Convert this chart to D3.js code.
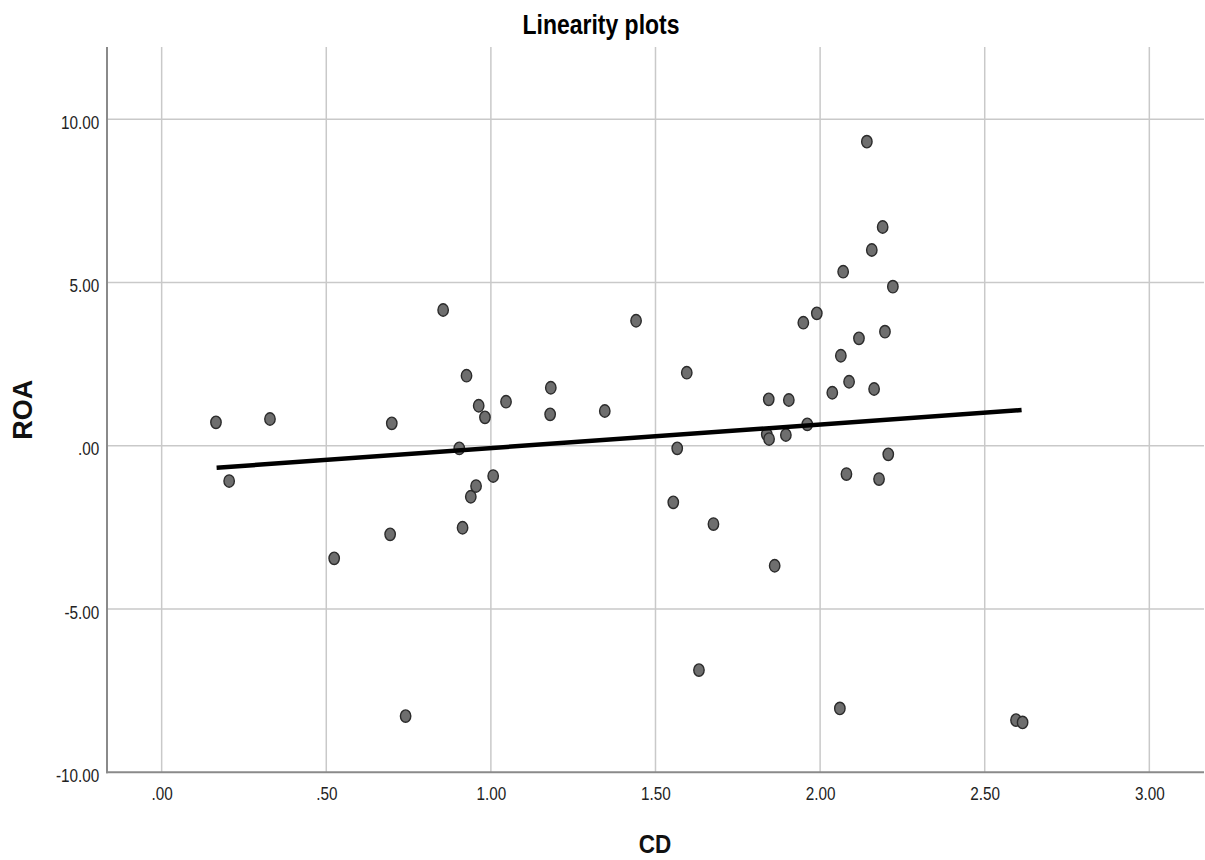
<!DOCTYPE html>
<html>
<head>
<meta charset="utf-8">
<script src="https://cdn.jsdelivr.net/npm/d3@7"></script>
<style>
  html, body { margin: 0; padding: 0; background: #fff; }
  svg { display: block; }
</style>
</head>
<body>
<svg id="chart" width="1205" height="860"></svg>
<script>
// ---- Data ----
const cd = [0.165, 0.205, 0.329, 0.524, 0.699, 0.694, 0.741, 0.855, 0.904, 0.914,
            0.926, 0.939, 0.955, 0.963, 0.982, 1.007, 1.046, 1.182, 1.180, 1.346,
            1.441, 1.554, 1.566, 1.595, 1.632, 1.676, 1.838, 1.845, 1.844, 1.862,
            1.896, 1.905, 1.949, 1.961, 1.990, 2.037, 2.063, 2.060, 2.070, 2.080,
            2.088, 2.118, 2.142, 2.157, 2.164, 2.179, 2.190, 2.197, 2.207, 2.221,
            2.595, 2.615];
const roa = [0.717, -1.081, 0.818, -3.449, 0.686, -2.714, -8.279, 4.156, -0.080, -2.511,
             2.144, -1.562, -1.234, 1.225, 0.870, -0.928, 1.348, 1.776, 0.962, 1.063,
             3.828, -1.734, -0.080, 2.236, -6.870, -2.398, 0.349, 0.205, 1.421, -3.675,
             0.328, 1.400, 3.767, 0.655, 4.055, 1.623, 2.756, -8.043, 5.329, -0.867,
             1.960, 3.289, 9.311, 5.994, 1.737, -1.020, 6.698, 3.492, -0.263, 4.870,
             -8.401, -8.472];
const fitX = [0.167, 2.612];
const fitY = [-0.674, 1.093];
const xTicks = [0, 0.5, 1, 1.5, 2, 2.5, 3];
const xTickLabels = [".00", ".50", "1.00", "1.50", "2.00", "2.50", "3.00"];
const yTicks = [-10, -5, 0, 5, 10];
const yTickLabels = ["-10.00", "-5.00", ".00", "5.00", "10.00"];
const titleText = "Linearity plots";
const xTitle = "CD";
const yTitle = "ROA";

// ---- Layout ----
const L = 107, R = 1203, T = 47, B = 772.3;
const svg = d3.select("#chart");
const x = d3.scaleLinear().domain([-0.166, 3.163]).range([L, R]);
const y = d3.scaleLinear().domain([-10, 12.21]).range([B, T]);
const font = "'Liberation Sans', Arial, sans-serif";

// gridlines
svg.append("g").selectAll("line").data(xTicks).join("line")
  .attr("x1", d => x(d)).attr("x2", d => x(d))
  .attr("y1", T).attr("y2", B)
  .attr("stroke", "#c9c9c9").attr("stroke-width", 1.5);
svg.append("g").selectAll("line").data(yTicks.filter(d => d !== -10)).join("line")
  .attr("x1", L).attr("x2", R + 1)
  .attr("y1", d => y(d)).attr("y2", d => y(d))
  .attr("stroke", "#c9c9c9").attr("stroke-width", 1.5);

// axes
const xAxis = d3.axisBottom(x).tickValues(xTicks)
  .tickFormat((d, i) => xTickLabels[i]).tickSize(0).tickPadding(15);
const gx = svg.append("g").attr("transform", `translate(0,${B})`).call(xAxis);
gx.select(".domain").remove();
gx.selectAll("text").attr("font-family", font).attr("font-size", 18).attr("fill", "#222")
  .attr("transform", "scale(0.85,1)");

const yAxis = d3.axisLeft(y).tickValues(yTicks)
  .tickFormat((d, i) => yTickLabels[i]).tickSize(0).tickPadding(9);
const gy = svg.append("g").attr("transform", `translate(${L},0)`).call(yAxis);
gy.select(".domain").remove();
gy.selectAll("text").attr("font-family", font).attr("font-size", 18).attr("fill", "#222")
  .attr("dy", "0.5em").attr("transform", "scale(0.85,1)");

// axis lines
svg.append("line").attr("x1", L).attr("x2", L).attr("y1", T).attr("y2", B + 1)
  .attr("stroke", "#8a8a8a").attr("stroke-width", 2);
svg.append("line").attr("x1", L - 1).attr("x2", R + 1).attr("y1", B).attr("y2", B)
  .attr("stroke", "#8a8a8a").attr("stroke-width", 2);

// points
const pts = cd.map((v, i) => ({ x: v, y: roa[i] }));
svg.append("g").selectAll("ellipse").data(pts).join("ellipse")
  .attr("cx", d => x(d.x)).attr("cy", d => y(d.y))
  .attr("rx", 5.2).attr("ry", 6.2)
  .attr("fill", "#6e6e6e").attr("stroke", "#2b2b2b").attr("stroke-width", 1.4);

// fit line
const fit = fitX.map((v, i) => [v, fitY[i]]);
svg.append("path").datum(fit)
  .attr("d", d3.line().x(d => x(d[0])).y(d => y(d[1])))
  .attr("stroke", "#000").attr("stroke-width", 4.5).attr("fill", "none");

// titles
svg.append("g").attr("transform", "translate(601,34) scale(0.82,1)")
  .append("text").attr("text-anchor", "middle")
  .attr("font-family", font).attr("font-weight", "bold").attr("font-size", 28)
  .attr("fill", "#000").text(titleText);
svg.append("g").attr("transform", `translate(${(L + R) / 2},853) scale(0.9,1)`)
  .append("text").attr("text-anchor", "middle")
  .attr("font-family", font).attr("font-weight", "bold").attr("font-size", 25)
  .attr("fill", "#111").text(xTitle);
svg.append("text").attr("transform", `translate(32,${(T + B) / 2}) rotate(-90)`)
  .attr("text-anchor", "middle")
  .attr("font-family", font).attr("font-weight", "bold").attr("font-size", 27)
  .attr("fill", "#111").text(yTitle);
</script>
</body>
</html>
